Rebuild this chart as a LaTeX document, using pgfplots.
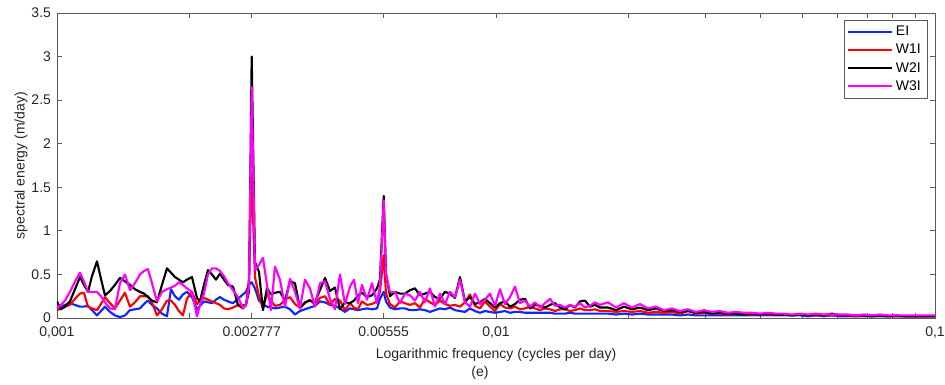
\documentclass[border=0pt]{standalone}
\usepackage{fontspec}
\setmainfont{Liberation Sans}
\usepackage{pgfplots}
\usepackage{pgfplotstable}
\pgfplotsset{compat=1.18}
\definecolor{mblue}{rgb}{0.05,0.15,1}
\definecolor{mred}{rgb}{1,0,0}
\definecolor{mmag}{rgb}{1,0,1}
\pgfplotstableread{
f EI W1I W2I W3I
0.00100000 0.10 0.09 0.19 0.11
0.00102120 0.13 0.11 0.10 0.15
0.00104285 0.15 0.13 0.13 0.20
0.00107056 0.17 0.15 0.19 0.30
0.00109901 0.15 0.22 0.33 0.42
0.00112821 0.13 0.28 0.47 0.52
0.00115213 0.13 0.29 0.38 0.42
0.00117656 0.14 0.13 0.30 0.30
0.00120150 0.09 0.11 0.48 0.30
0.00123343 0.03 0.09 0.65 0.30
0.00125958 0.08 0.16 0.45 0.25
0.00128628 0.13 0.24 0.26 0.18
0.00132047 0.07 0.17 0.31 0.11
0.00135555 0.03 0.11 0.38 0.10
0.00139156 0.01 0.20 0.46 0.40
0.00142854 0.03 0.29 0.42 0.50
0.00146650 0.09 0.13 0.38 0.32
0.00150546 0.10 0.18 0.33 0.40
0.00154546 0.11 0.25 0.30 0.50
0.00157823 0.16 0.25 0.28 0.54
0.00161169 0.20 0.25 0.24 0.56
0.00164586 0.15 0.18 0.20 0.40
0.00168959 0.11 0.03 0.18 0.19
0.00173449 0.05 0.10 0.38 0.30
0.00178058 0.02 0.20 0.57 0.33
0.00181833 0.33 0.20 0.52 0.35
0.00185688 0.25 0.15 0.47 0.37
0.00189625 0.21 0.08 0.44 0.41
0.00193645 0.27 0.03 0.41 0.38
0.00197751 0.30 0.22 0.44 0.34
0.00203006 0.24 0.30 0.47 0.30
0.00208400 0.10 0.16 0.23 0.02
0.00211706 0.14 0.20 0.19 0.15
0.00216194 0.19 0.23 0.38 0.28
0.00220778 0.18 0.21 0.55 0.50
0.00225459 0.17 0.19 0.50 0.57
0.00230239 0.21 0.17 0.44 0.57
0.00235120 0.24 0.15 0.51 0.54
0.00240105 0.21 0.11 0.44 0.48
0.00245196 0.19 0.10 0.38 0.40
0.00251711 0.17 0.12 0.36 0.32
0.00258398 0.22 0.15 0.15 0.24
0.00265264 0.27 0.15 0.11 0.11
0.00269470 0.30 0.14 0.16 0.15
0.00273752 0.38 0.45 0.30 0.35
0.00277700 0.41 1.65 3.00 2.65
0.00282499 0.34 0.47 0.64 0.55
0.00288488 0.20 0.25 0.53 0.61
0.00294604 0.16 0.11 0.09 0.69
0.00300850 0.13 0.28 0.34 0.38
0.00307229 0.12 0.20 0.27 0.09
0.00313743 0.11 0.14 0.29 0.59
0.00322080 0.12 0.15 0.30 0.44
0.00330638 0.13 0.21 0.20 0.13
0.00339424 0.10 0.24 0.42 0.45
0.00348443 0.04 0.16 0.40 0.30
0.00357702 0.08 0.12 0.11 0.11
0.00367207 0.10 0.17 0.18 0.44
0.00376964 0.12 0.21 0.20 0.34
0.00386981 0.14 0.15 0.18 0.13
0.00397264 0.19 0.23 0.32 0.40
0.00407820 0.18 0.25 0.46 0.42
0.00418657 0.15 0.15 0.31 0.22
0.00429782 0.14 0.22 0.35 0.10
0.00441202 0.11 0.20 0.10 0.50
0.00452926 0.07 0.09 0.18 0.16
0.00464961 0.11 0.17 0.17 0.36
0.00474819 0.10 0.12 0.20 0.44
0.00484886 0.09 0.10 0.26 0.17
0.00495166 0.10 0.19 0.29 0.38
0.00508324 0.11 0.15 0.24 0.21
0.00521831 0.10 0.16 0.26 0.40
0.00535698 0.11 0.19 0.34 0.17
0.00544193 0.22 0.30 0.44 0.36
0.00555000 0.30 0.72 1.40 1.35
0.00561590 0.19 0.28 0.51 0.49
0.00573497 0.12 0.16 0.25 0.30
0.00588736 0.10 0.12 0.30 0.30
0.00604380 0.11 0.19 0.28 0.17
0.00620440 0.11 0.17 0.28 0.28
0.00636927 0.09 0.15 0.32 0.26
0.00653852 0.09 0.17 0.34 0.20
0.00671226 0.10 0.12 0.26 0.30
0.00689062 0.09 0.22 0.28 0.18
0.00707372 0.07 0.18 0.30 0.34
0.00726168 0.09 0.15 0.24 0.13
0.00745464 0.11 0.20 0.22 0.28
0.00765273 0.10 0.16 0.30 0.16
0.00785608 0.12 0.14 0.28 0.30
0.00806484 0.09 0.15 0.23 0.24
0.00827914 0.08 0.13 0.47 0.44
0.00849914 0.07 0.18 0.19 0.18
0.00872498 0.11 0.27 0.24 0.13
0.00895682 0.08 0.14 0.16 0.28
0.00919482 0.06 0.11 0.18 0.16
0.00943915 0.08 0.19 0.22 0.21
0.00968997 0.07 0.13 0.17 0.28
0.00994745 0.06 0.08 0.12 0.14
0.0102120 0.07 0.16 0.17 0.33
0.0104834 0.08 0.12 0.19 0.16
0.0107620 0.06 0.11 0.13 0.24
0.0110480 0.07 0.13 0.16 0.36
0.0113416 0.07 0.10 0.21 0.17
0.0116430 0.06 0.11 0.22 0.20
0.0119524 0.06 0.13 0.11 0.13
0.0122700 0.06 0.11 0.15 0.18
0.0125961 0.06 0.09 0.14 0.12
0.0129308 0.06 0.11 0.12 0.17
0.0132744 0.06 0.10 0.15 0.22
0.0136272 0.05 0.08 0.17 0.14
0.0139893 0.05 0.10 0.12 0.15
0.0143611 0.05 0.10 0.10 0.12
0.0147427 0.06 0.08 0.15 0.15
0.0151345 0.05 0.09 0.12 0.13
0.0155367 0.05 0.11 0.19 0.17
0.0159496 0.05 0.09 0.20 0.12
0.0163734 0.05 0.09 0.13 0.14
0.0168085 0.05 0.10 0.15 0.18
0.0172552 0.05 0.08 0.12 0.15
0.0179946 0.05 0.08 0.12 0.18
0.0187657 0.04 0.07 0.09 0.12
0.0195698 0.05 0.08 0.13 0.17
0.0204084 0.04 0.07 0.10 0.12
0.0212829 0.05 0.08 0.12 0.16
0.0221949 0.04 0.06 0.09 0.11
0.0231459 0.04 0.07 0.11 0.13
0.0241377 0.04 0.06 0.08 0.09
0.0251720 0.04 0.07 0.09 0.11
0.0262507 0.03 0.05 0.07 0.08
0.0273755 0.04 0.08 0.08 0.10
0.0285486 0.03 0.05 0.06 0.07
0.0297719 0.03 0.06 0.07 0.09
0.0310477 0.03 0.05 0.05 0.07
0.0323781 0.03 0.05 0.06 0.08
0.0337655 0.03 0.04 0.05 0.06
0.0352124 0.03 0.05 0.05 0.07
0.0367213 0.03 0.04 0.04 0.06
0.0382948 0.03 0.04 0.05 0.06
0.0399358 0.03 0.04 0.04 0.05
0.0416471 0.03 0.04 0.05 0.06
0.0434317 0.03 0.04 0.04 0.05
0.0452928 0.03 0.04 0.04 0.05
0.0472336 0.03 0.03 0.03 0.04
0.0492576 0.03 0.04 0.04 0.05
0.0513683 0.02 0.03 0.03 0.04
0.0535695 0.03 0.03 0.04 0.05
0.0558650 0.02 0.03 0.03 0.04
0.0582589 0.03 0.03 0.05 0.04
0.0607553 0.02 0.03 0.03 0.04
0.0633587 0.02 0.03 0.03 0.04
0.0660737 0.02 0.02 0.03 0.03
0.0689050 0.02 0.03 0.03 0.04
0.0718576 0.02 0.02 0.02 0.03
0.0749368 0.02 0.03 0.03 0.04
0.0781479 0.02 0.02 0.02 0.03
0.0814966 0.02 0.02 0.03 0.03
0.0849888 0.02 0.02 0.02 0.03
0.0886307 0.02 0.02 0.02 0.03
0.0924286 0.02 0.02 0.02 0.03
0.0963893 0.02 0.02 0.02 0.03
0.1000000 0.02 0.02 0.02 0.03
}\spec
\begin{document}
\begin{tikzpicture}
\begin{axis}[
  scale only axis,
  width=658.5pt, height=228.75pt,
  xmode=log,
  xmin=0.001, xmax=0.1,
  ymin=0, ymax=3.5,
  xtick={0.001,0.002,0.002777,0.00555,0.01,0.02,0.03,0.04,0.05,0.06,0.07,0.08,0.09,0.1},
  xticklabels={{0,001},{},{0.002777},{0.00555},{0,01},{},{},{},{},{},{},{},{},{0,1}},
  minor xtick={},
  ytick={0,0.5,1,1.5,2,2.5,3,3.5},
  yticklabels={0,0.5,1,1.5,2,2.5,3,3.5},
  tick align=inside,
  major tick length=4pt,
  tick style={color=black!65, line width=0.6pt},
  axis line style={color=black!65, line width=0.6pt},
  tick label style={font=\fontsize{10.5}{12}\selectfont, text=black!85},
  xticklabel style={yshift=-3pt},
  yticklabel style={xshift=-1pt},
  xlabel={Logarithmic frequency (cycles per day)},
  ylabel={spectral energy (m/day)},
  label style={font=\fontsize{10.5}{12}\selectfont, text=black!85},
  xlabel style={yshift=-1pt},
  ylabel style={yshift=-4pt},
  legend style={at={(0.991,0.977)}, anchor=north east, draw=black!65,
    font=\fontsize{10.5}{12}\selectfont, row sep=0.8pt, inner sep=2.5pt},
  legend cell align=left,
  legend image code/.code={\draw[#1, line width=1.6pt] (0pt,0pt) -- (33pt,0pt);},
  every axis plot/.append style={line width=1.6pt, line join=round},
]
\addplot[mblue] table[x=f, y=EI] {\spec};
\addlegendentry{EI}
\addplot[mred] table[x=f, y=W1I] {\spec};
\addlegendentry{W1I}
\addplot[black] table[x=f, y=W2I] {\spec};
\addlegendentry{W2I}
\addplot[mmag] table[x=f, y=W3I] {\spec};
\addlegendentry{W3I}
\end{axis}
\node[font=\fontsize{10.5}{12}\selectfont, text=black!85] at ([xshift=-12pt, yshift=-41pt]current axis.south) {(e)};
\pgfresetboundingbox
\path ([xshift=-42.75pt, yshift=-50.25pt]current axis.south west) rectangle ([xshift=7.5pt, yshift=9.75pt]current axis.north east);
\end{tikzpicture}
\end{document}
